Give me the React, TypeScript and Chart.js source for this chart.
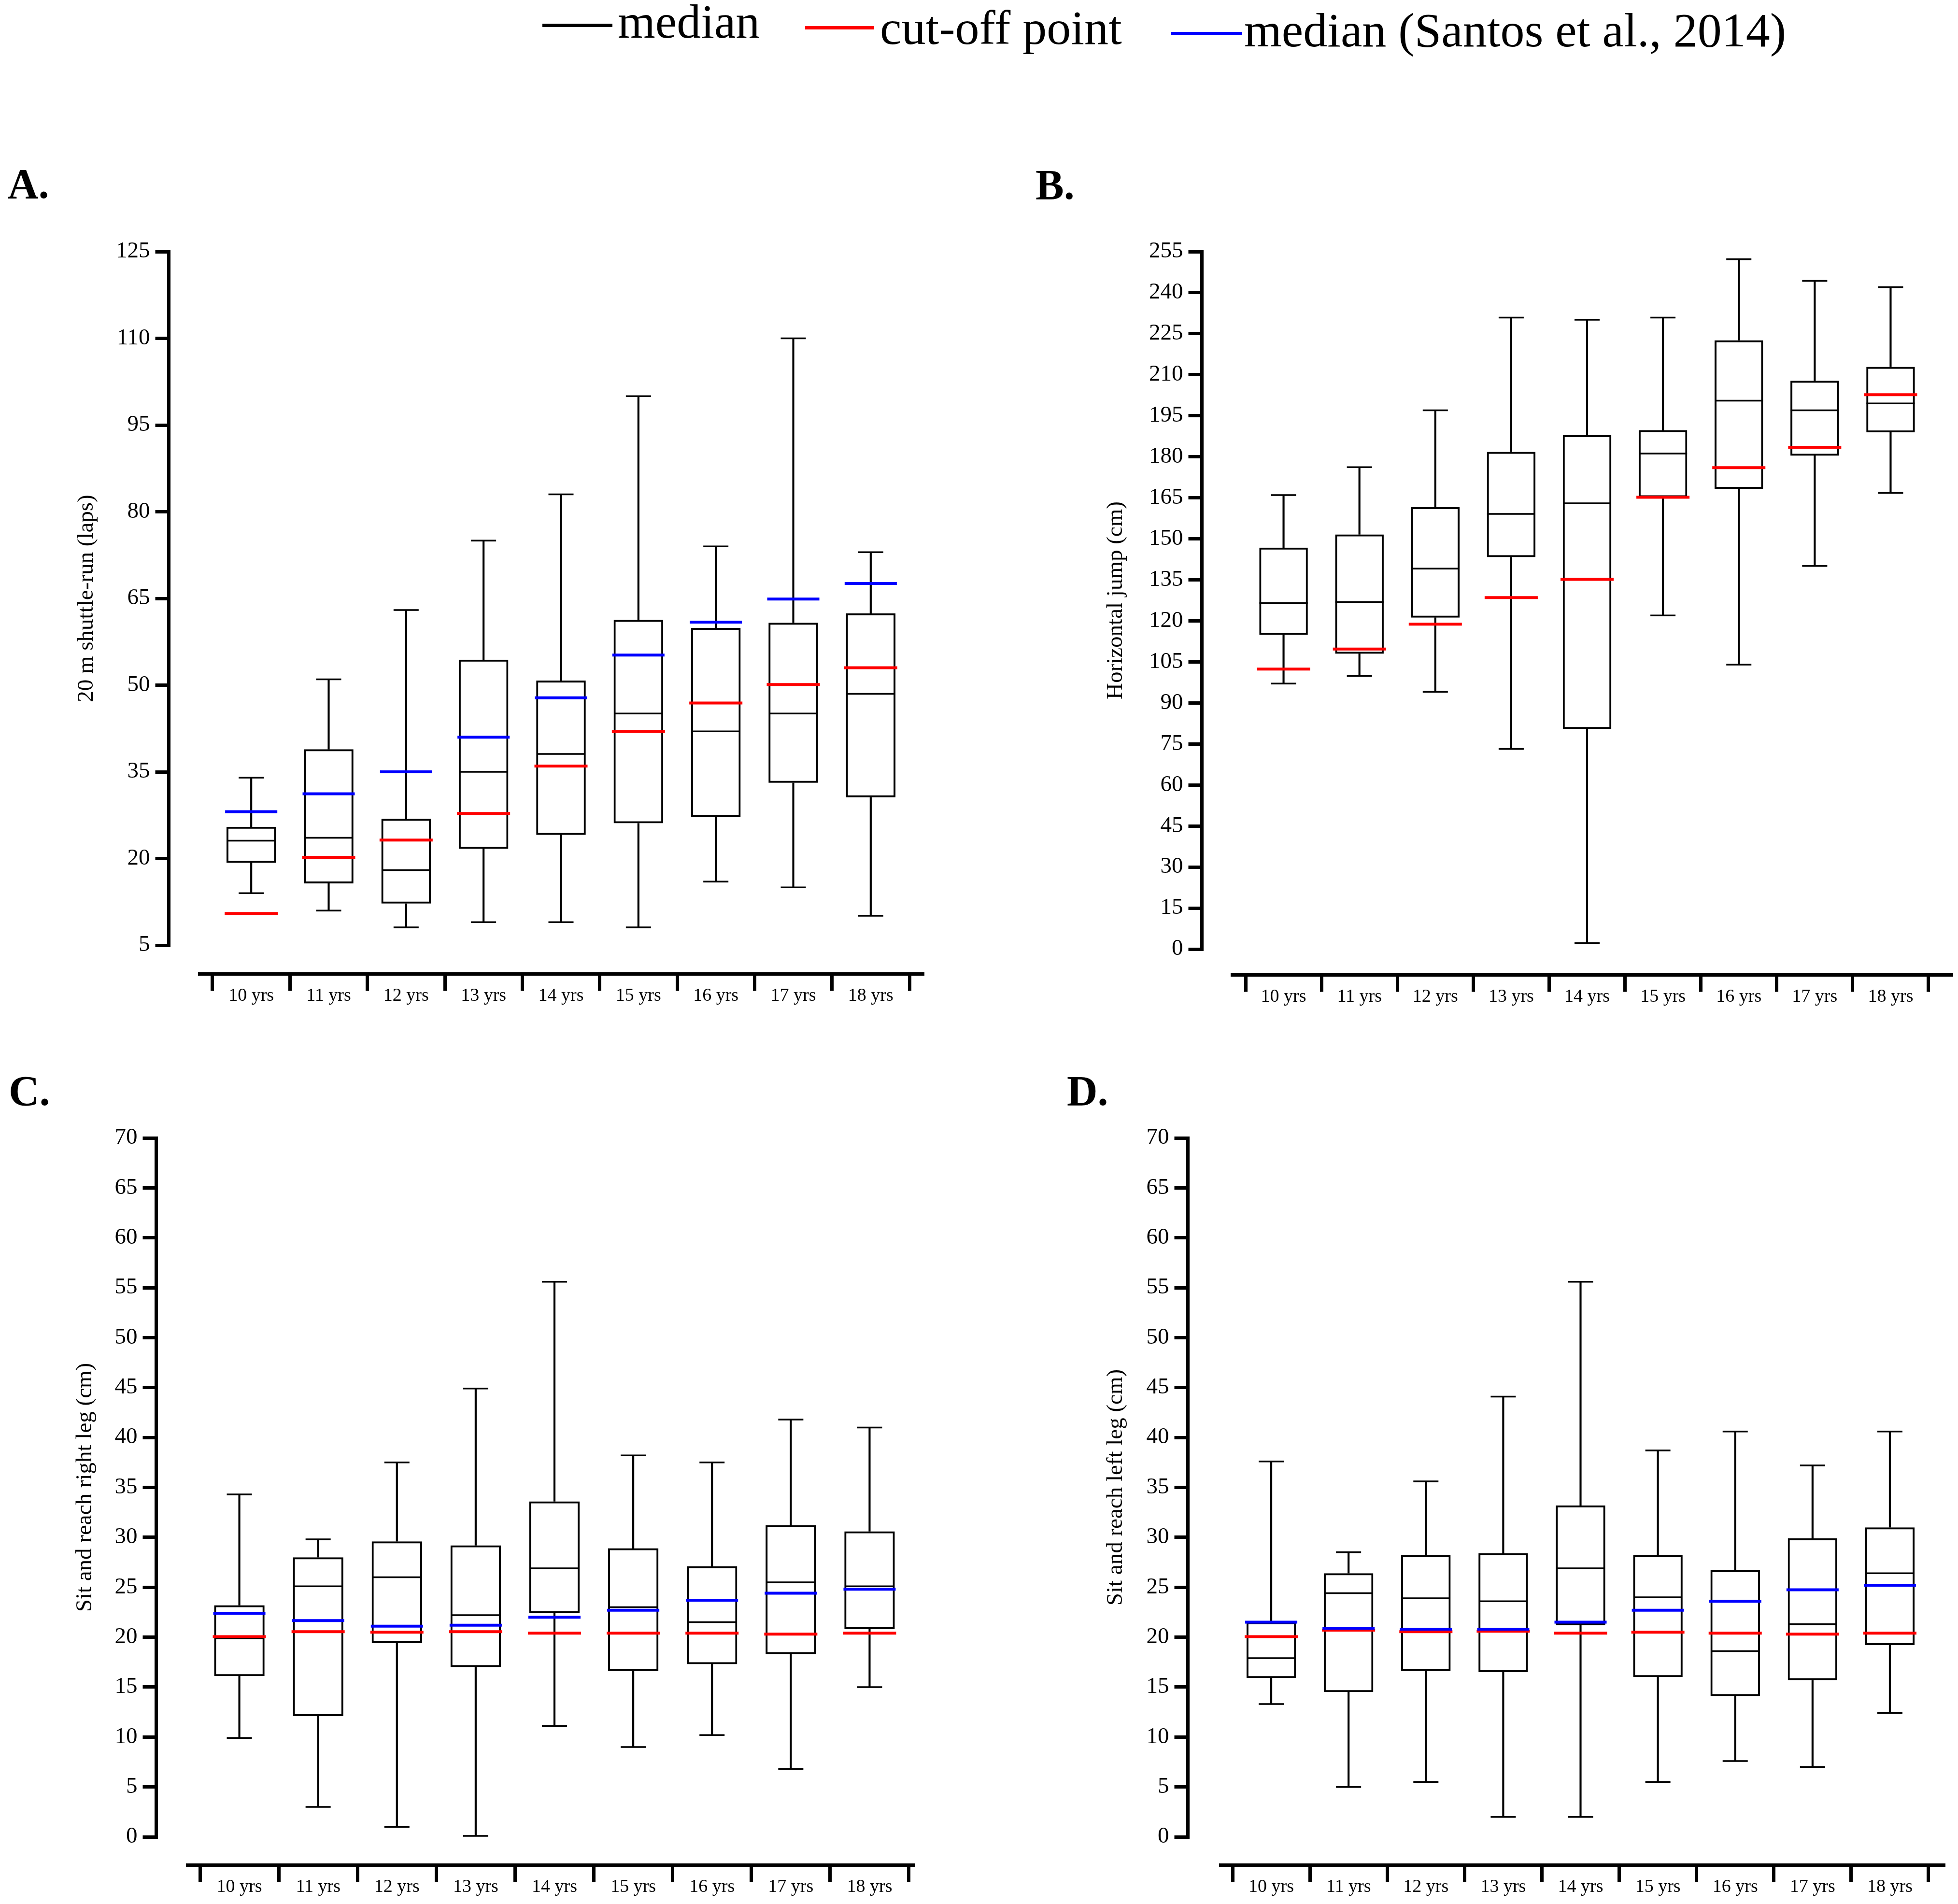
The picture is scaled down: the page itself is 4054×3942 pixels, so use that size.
import React, { useEffect, useRef } from 'react';
import { Chart, registerables } from 'chart.js';

Chart.register(...registerables);

// ---------- data ----------
const AGE_LABELS = ['10 yrs', '11 yrs', '12 yrs', '13 yrs', '14 yrs', '15 yrs', '16 yrs', '17 yrs', '18 yrs'];

// A. 20 m shuttle-run (laps)
const A_TICKS = [5, 20, 35, 50, 65, 80, 95, 110, 125];
const A_MIN = [14.0, 11.0, 8.1, 9.0, 9.0, 8.1, 16.0, 15.0, 10.1];
const A_Q1 = [19.3, 15.7, 12.2, 21.7, 24.1, 26.1, 27.2, 33.1, 30.6];
const A_MED = [23.1, 23.6, 18.0, 35.0, 38.1, 45.1, 42.0, 45.1, 48.5];
const A_Q3 = [25.5, 38.9, 26.9, 54.4, 50.8, 61.3, 59.9, 60.8, 62.4];
const A_MAX = [34.0, 51.0, 63.0, 75.0, 83.0, 100.0, 74.0, 110.0, 73.0];
const A_CUT = [10.5, 20.2, 23.2, 27.8, 36.0, 42.0, 46.9, 50.1, 53.0];
const A_SANTOS = [28.1, 31.2, 35.0, 41.0, 47.8, 55.2, 60.9, 64.9, 67.6];

// B. Horizontal jump (cm)
const B_TICKS = [0, 15, 30, 45, 60, 75, 90, 105, 120, 135, 150, 165, 180, 195, 210, 225, 240, 255];
const B_MIN = [97.1, 99.9, 94.1, 73.2, 2.2, 122.0, 104.0, 140.1, 166.8];
const B_Q1 = [114.9, 108.0, 121.2, 143.3, 80.5, 165.2, 168.3, 180.4, 188.9];
const B_MED = [126.5, 126.9, 139.1, 159.1, 163.0, 181.2, 200.5, 197.0, 199.5];
const B_Q3 = [146.8, 151.6, 161.6, 181.8, 187.9, 189.7, 222.6, 207.8, 212.9];
const B_MAX = [166.0, 176.2, 197.0, 230.9, 230.1, 230.9, 252.2, 244.3, 242.0];
const B_CUT = [102.4, 109.7, 118.8, 128.5, 135.2, 165.2, 176.0, 183.5, 202.7];

// C. Sit and reach right leg (cm)
const C_TICKS = [0, 5, 10, 15, 20, 25, 30, 35, 40, 45, 50, 55, 60, 65, 70];
const C_MIN = [9.9, 3.0, 1.0, 0.1, 11.1, 9.0, 10.2, 6.8, 15.0];
const C_Q1 = [16.1, 12.1, 19.4, 17.0, 22.4, 16.6, 17.3, 18.3, 20.8];
const C_MED = [19.9, 25.1, 26.0, 22.2, 26.9, 23.0, 21.5, 25.5, 25.1];
const C_Q3 = [23.2, 28.0, 29.6, 29.2, 33.6, 28.9, 27.1, 31.2, 30.6];
const C_MAX = [34.3, 29.8, 37.5, 44.9, 55.6, 38.2, 37.5, 41.8, 41.0];
const C_CUT = [20.05, 20.55, 20.5, 20.55, 20.4, 20.4, 20.4, 20.3, 20.4];
const C_SANTOS = [22.4, 21.66, 21.1, 21.2, 22.0, 22.7, 23.7, 24.4, 24.8];

// D. Sit and reach left leg (cm)
const D_TICKS = [0, 5, 10, 15, 20, 25, 30, 35, 40, 45, 50, 55, 60, 65, 70];
const D_MIN = [13.3, 5.0, 5.5, 2.0, 2.0, 5.5, 7.6, 7.0, 12.4];
const D_Q1 = [15.9, 14.5, 16.6, 16.5, 21.2, 16.0, 14.1, 15.7, 19.2];
const D_MED = [17.9, 24.4, 23.9, 23.6, 26.9, 24.0, 18.6, 21.3, 26.4];
const D_Q3 = [21.5, 26.4, 28.2, 28.4, 33.2, 28.2, 26.7, 29.9, 31.0];
const D_MAX = [37.6, 28.5, 35.6, 44.1, 55.6, 38.7, 40.6, 37.2, 40.6];
const D_CUT = [20.05, 20.7, 20.55, 20.6, 20.4, 20.5, 20.4, 20.3, 20.4];
const D_SANTOS = [21.5, 20.9, 20.8, 20.8, 21.5, 22.7, 23.6, 24.75, 25.2];

// ---------- styling ----------
const FONT = '"Liberation Serif", "Times New Roman", serif';
const RED = '#ff0000';
const BLUE = '#0000ff';
const AXIS_W = 7;
const TITLE_LH = 1.2;
const TITLE_SIZE = 47;

type Geom = {
  cx: number; cy: number; cw: number; ch: number;
  L: number; R: number; T: number; B: number;
  yAxisX: number; xAxisY: number; xStart: number; xEnd: number; titleX: number;
};

type Panel = {
  id: string;
  title: string;
  ticks: number[];
  min: number[]; q1: number[]; med: number[]; q3: number[]; max: number[];
  cut: number[]; santos: number[] | null;
  geom: Geom;
};

// all geometry in page pixels
const PANELS: Panel[] = [
  {
    id: 'A', title: '20 m shuttle-run (laps)', ticks: A_TICKS,
    min: A_MIN, q1: A_Q1, med: A_MED, q3: A_Q3, max: A_MAX, cut: A_CUT, santos: A_SANTOS,
    geom: { cx: 0, cy: 460, cw: 2030, ch: 1700, L: 440, R: 1883, T: 520, B: 1957, yAxisX: 346, xAxisY: 2020, xStart: 413, xEnd: 1910, titleX: 180 },
  },
  {
    id: 'B', title: 'Horizontal jump (cm)', ticks: B_TICKS,
    min: B_MIN, q1: B_Q1, med: B_MED, q3: B_Q3, max: B_MAX, cut: B_CUT, santos: null,
    geom: { cx: 2030, cy: 460, cw: 2024, ch: 1700, L: 2579, R: 4027, T: 520, B: 1965, yAxisX: 2485, xAxisY: 2022, xStart: 2551, xEnd: 4040, titleX: 2311 },
  },
  {
    id: 'C', title: 'Sit and reach right leg (cm)', ticks: C_TICKS,
    min: C_MIN, q1: C_Q1, med: C_MED, q3: C_Q3, max: C_MAX, cut: C_CUT, santos: C_SANTOS,
    geom: { cx: 0, cy: 2290, cw: 2030, ch: 1652, L: 414, R: 1882, T: 2356, B: 3803, yAxisX: 320, xAxisY: 3865, xStart: 388, xEnd: 1891, titleX: 177 },
  },
  {
    id: 'D', title: 'Sit and reach left leg (cm)', ticks: D_TICKS,
    min: D_MIN, q1: D_Q1, med: D_MED, q3: D_Q3, max: D_MAX, cut: D_CUT, santos: D_SANTOS,
    geom: { cx: 2030, cy: 2290, cw: 2024, ch: 1652, L: 2552, R: 4016, T: 2356, B: 3803, yAxisX: 2456, xAxisY: 3865, xStart: 2527, xEnd: 4024, titleX: 2311 },
  },
];

const X_AXIS_H = 120;

function lineMarks(label: string, data: number[], color: string, radius: number, width: number, order: number) {
  return {
    type: 'line' as const,
    label,
    data,
    showLine: false,
    pointStyle: 'line' as const,
    pointRadius: radius,
    pointHoverRadius: radius,
    pointBorderWidth: width,
    pointHoverBorderWidth: width,
    pointBorderColor: color,
    pointBackgroundColor: color,
    borderColor: color,
    backgroundColor: color,
    order,
    clip: false as const,
  };
}

function BoxPanel({ panel }: { panel: Panel }) {
  const ref = useRef<HTMLCanvasElement | null>(null);
  const g = panel.geom;

  useEffect(() => {
    if (!ref.current) return;
    // canvas-local geometry
    const yRight = g.yAxisX + AXIS_W / 2 - g.cx;
    const yLeft = g.titleX - (TITLE_SIZE * TITLE_LH) / 2 - g.cx;
    const W = yRight - yLeft;
    const xTop = g.xAxisY - AXIS_W / 2 - g.cy;

    const lowW = panel.min.map((v, i) => [v, panel.q1[i]]);
    const highW = panel.q3.map((v, i) => [v, panel.max[i]]);
    const boxes = panel.q1.map((v, i) => [v, panel.q3[i]]);

    const datasets: any[] = [
      { type: 'bar', label: 'lower whisker', data: lowW, backgroundColor: '#000', borderWidth: 0, barThickness: 3.5, grouped: false, order: 20 },
      { type: 'bar', label: 'upper whisker', data: highW, backgroundColor: '#000', borderWidth: 0, barThickness: 3.5, grouped: false, order: 20 },
      {
        type: 'bar', label: 'box', data: boxes, backgroundColor: 'rgba(0,0,0,0)', borderColor: '#000', borderWidth: 4,
        borderSkipped: false, barPercentage: 0.64, categoryPercentage: 1, grouped: false, order: 15,
      },
      lineMarks('min', panel.min, '#000', 26, 3.5, 12),
      lineMarks('max', panel.max, '#000', 26, 3.5, 12),
      lineMarks('median', panel.med, '#000', 50, 3.5, 5),
      lineMarks('cut-off point', panel.cut, RED, 55, 6, 3),
    ];
    if (panel.santos) datasets.push(lineMarks('median (Santos et al., 2014)', panel.santos, BLUE, 54, 6, 2));

    const prismAxes = {
      id: 'prismAxes',
      afterLayout(chart: any) {
        const x = chart.scales.x;
        const y = chart.scales.y;
        const dx = yRight - y.right;
        y.left += dx;
        y.right += dx;
        const dy = xTop - x.top;
        x.top += dy;
        x.bottom += dy;
        x.left = g.xStart - g.cx;
        x.right = g.xEnd - g.cx;
      },
    };

    const chart = new Chart(ref.current, {
      type: 'bar',
      data: { labels: AGE_LABELS, datasets },
      options: {
        responsive: false,
        animation: false,
        devicePixelRatio: 1,
        events: [],
        layout: {
          padding: {
            left: g.L - g.cx - W,
            right: g.cx + g.cw - g.R,
            top: g.T - g.cy,
            bottom: g.cy + g.ch - g.B - X_AXIS_H,
          },
        },
        plugins: { legend: { display: false }, tooltip: { enabled: false }, title: { display: false } },
        scales: {
          x: {
            type: 'category',
            offset: true,
            grid: { offset: true, drawOnChartArea: false, drawTicks: true, tickLength: 35, lineWidth: AXIS_W, color: '#000' },
            border: { display: true, width: AXIS_W, color: '#000' },
            ticks: { color: '#000', font: { family: FONT, size: 38 }, padding: -12, maxRotation: 0, minRotation: 0, autoSkip: false },
            afterFit: (s: any) => { s.height = X_AXIS_H; },
          },
          y: {
            type: 'linear',
            min: panel.ticks[0],
            max: panel.ticks[panel.ticks.length - 1],
            afterBuildTicks: (s: any) => { s.ticks = panel.ticks.map((v) => ({ value: v })); },
            grid: { drawOnChartArea: false, drawTicks: true, tickLength: 28, lineWidth: AXIS_W, color: '#000' },
            border: { display: true, width: AXIS_W, color: '#000' },
            ticks: { color: '#000', font: { family: FONT, size: 47 }, padding: 11 },
            title: { display: true, text: panel.title, color: '#000', font: { family: FONT, size: TITLE_SIZE, lineHeight: TITLE_LH }, padding: 0 },
            afterFit: (s: any) => { s.width = W; },
          },
        },
      } as any,
      plugins: [prismAxes],
    });
    return () => chart.destroy();
  }, []);

  return (
    <canvas
      ref={ref}
      width={g.cw}
      height={g.ch}
      style={{ position: 'absolute', left: g.cx, top: g.cy, width: g.cw, height: g.ch }}
    />
  );
}

const LEGEND = [
  { text: 'median', color: '#000', lineLeft: 1123, lineTop: 49, lineW: 145, textLeft: 1279, baseline: 79 },
  { text: 'cut-off point', color: RED, lineLeft: 1667, lineTop: 54, lineW: 143, textLeft: 1822, baseline: 92 },
  { text: 'median (Santos et al., 2014)', color: BLUE, lineLeft: 2424, lineTop: 66, lineW: 147, textLeft: 2576, baseline: 97 },
];

const LETTERS = [
  { t: 'A.', left: 16, top: 337 },
  { t: 'B.', left: 2144, top: 339 },
  { t: 'C.', left: 18, top: 2215 },
  { t: 'D.', left: 2209, top: 2215 },
];

export default function App() {
  return (
    <div style={{ position: 'absolute', left: 0, top: 0, width: 4054, height: 3942, background: '#fff', overflow: 'hidden' }}>
      {LEGEND.map((l) => (
        <React.Fragment key={l.text}>
          <div style={{ position: 'absolute', left: l.lineLeft, top: l.lineTop, width: l.lineW, height: 7, background: l.color }} />
          <div
            style={{
              position: 'absolute', left: l.textLeft, top: l.baseline - 84, fontFamily: FONT, fontSize: 100,
              lineHeight: '100px', whiteSpace: 'nowrap', color: '#000',
            }}
          >
            {l.text}
          </div>
        </React.Fragment>
      ))}
      {LETTERS.map((l) => (
        <div
          key={l.t}
          style={{
            position: 'absolute', left: l.left, top: l.top, fontFamily: FONT, fontWeight: 'bold', fontSize: 88,
            lineHeight: '88px', color: '#000', whiteSpace: 'nowrap',
          }}
        >
          {l.t}
        </div>
      ))}
      {PANELS.map((p) => (
        <BoxPanel key={p.id} panel={p} />
      ))}
    </div>
  );
}
